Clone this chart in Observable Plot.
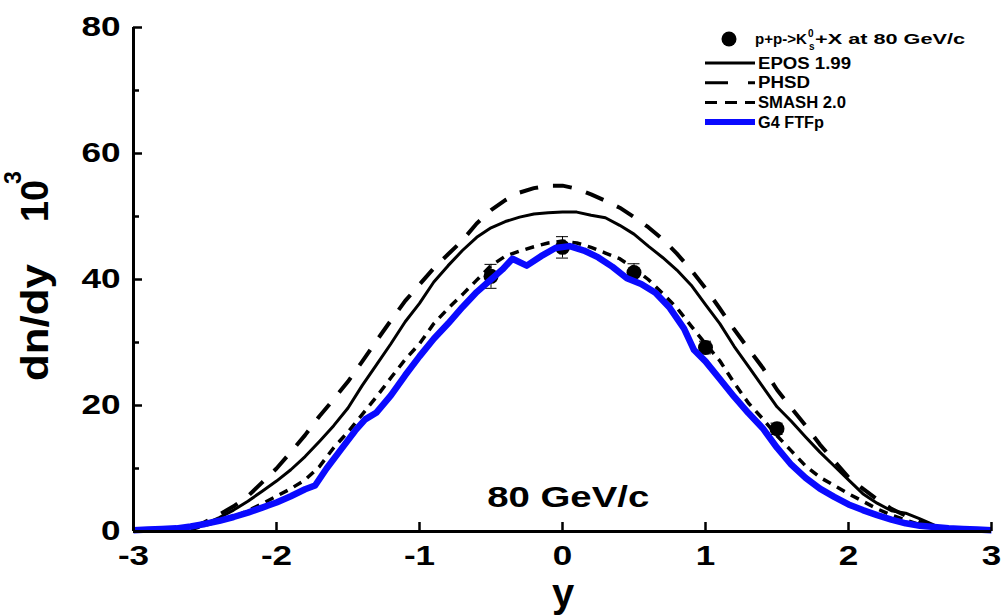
<!DOCTYPE html>
<html><head><meta charset="utf-8">
<script src="https://cdn.jsdelivr.net/npm/d3@7"></script>
<script src="https://cdn.jsdelivr.net/npm/@observablehq/plot@0.6"></script>
<style>body{margin:0;background:#fff} svg{display:block}</style>
</head><body><div id="chart"></div>
<script>
// ---- data ----
const xTicks = [-3, -2, -1, 0, 1, 2, 3];
const yTicks = [0, 20, 40, 60, 80];
const yMinorTicks = [10, 30, 50, 70];

const expX = [-0.5, 0, 0.5, 1, 1.5];
const expDn = [40.5, 45.1, 41.1, 29.2, 16.3];
const expErr = [1.9, 1.7, 1.4, 1.0, 0.9];

const eposX = [-2.6,-2.5,-2.4,-2.3,-2.2,-2.1,-2.0,-1.9,-1.8,-1.7,-1.6,-1.5,-1.4,-1.3,-1.2,-1.1,-1.0,-0.9,-0.8,-0.7,-0.6,-0.5,-0.4,-0.3,-0.2,-0.1,0.0,0.1,0.2,0.3,0.4,0.5,0.6,0.7,0.8,0.9,1.0,1.1,1.2,1.3,1.4,1.5,1.6,1.7,1.8,1.9,2.0,2.1,2.2,2.3,2.4,2.5,2.6,2.7];
const eposDn = [0.4,1.2,2.2,3.4,4.8,6.4,8.0,9.8,11.9,14.3,16.8,19.6,23.2,26.5,29.8,33.3,36.2,39.6,42.2,44.6,46.7,48.2,49.2,49.9,50.4,50.6,50.7,50.7,50.2,49.8,48.6,47.2,45.3,43.5,41.5,39.1,36.0,33.0,29.4,26.2,23.0,19.8,17.5,15.0,12.6,10.4,8.2,6.0,4.5,3.3,2.9,2.0,1.0,0.2];

const phsdX = [-2.6,-2.5,-2.4,-2.3,-2.2,-2.1,-2.0,-1.9,-1.8,-1.7,-1.6,-1.5,-1.4,-1.3,-1.2,-1.1,-1.0,-0.9,-0.8,-0.7,-0.6,-0.5,-0.4,-0.3,-0.2,-0.1,0.0,0.1,0.2,0.3,0.4,0.5,0.6,0.7,0.8,0.9,1.0,1.1,1.2,1.3,1.4,1.5,1.6,1.7,1.8,1.9,2.0,2.1,2.2,2.3,2.4,2.5,2.6];
const phsdDn = [0.5,1.5,2.7,4.0,5.6,7.8,10.0,12.6,15.3,18.3,21.0,23.8,27.0,30.3,33.5,36.6,39.2,41.8,44.0,46.2,48.9,51.0,52.6,53.8,54.5,54.9,54.9,54.4,53.5,52.5,51.4,49.9,48.3,46.4,44.1,41.5,38.6,35.4,32.1,29.0,26.0,22.5,19.6,16.8,13.8,11.2,8.6,6.8,5.1,3.6,2.5,1.5,0.6];

const smashX = [-2.6,-2.5,-2.4,-2.3,-2.2,-2.1,-2.0,-1.9,-1.8,-1.7,-1.6,-1.5,-1.4,-1.3,-1.2,-1.1,-1.0,-0.9,-0.8,-0.7,-0.6,-0.5,-0.4,-0.3,-0.2,-0.1,0.0,0.1,0.2,0.3,0.4,0.5,0.6,0.7,0.8,0.9,1.0,1.1,1.2,1.3,1.4,1.5,1.6,1.7,1.8,1.9,2.0,2.1,2.2,2.3,2.4,2.5,2.6,2.7];
const smashDn = [0.3,1.0,1.6,2.3,3.3,4.4,5.6,6.8,8.2,10.3,13.3,15.8,18.6,21.4,24.4,27.3,29.8,33.0,35.4,37.6,39.9,42.2,43.7,44.5,45.2,45.8,46.1,45.8,45.1,44.2,43.3,41.8,40.0,37.8,35.5,32.6,29.8,27.1,23.6,20.4,17.9,15.2,12.8,10.4,8.6,7.3,6.0,4.8,3.6,2.6,1.8,1.1,0.6,0.2];

const g4X = [-3.0,-2.9,-2.8,-2.7,-2.6,-2.5,-2.4,-2.3,-2.2,-2.1,-2.0,-1.9,-1.8,-1.73,-1.65,-1.55,-1.45,-1.38,-1.3,-1.2,-1.1,-1.0,-0.9,-0.8,-0.7,-0.6,-0.5,-0.42,-0.35,-0.25,-0.15,-0.05,0.05,0.15,0.25,0.35,0.45,0.55,0.65,0.75,0.85,0.92,1.0,1.1,1.2,1.3,1.4,1.5,1.6,1.7,1.8,1.9,2.0,2.1,2.2,2.3,2.4,2.5,2.6,2.7,2.8,2.9,3.0];
const g4Dn = [0.2,0.3,0.4,0.5,0.8,1.2,1.7,2.3,3.0,3.8,4.6,5.6,6.7,7.3,10.0,13.0,16.0,17.8,18.9,21.6,24.8,27.8,30.6,33.0,35.6,38.0,40.0,41.6,43.3,42.2,43.7,45.0,45.3,44.6,43.5,42.0,40.2,39.3,37.9,35.5,32.2,28.8,27.0,24.2,21.4,18.8,16.4,13.3,10.6,8.5,6.8,5.5,4.3,3.4,2.6,1.9,1.3,0.9,0.7,0.5,0.4,0.3,0.2];

const seriesNames = ["EPOS 1.99", "PHSD", "SMASH 2.0", "G4 FTFp"];
const dataLabel = ["p+p->K", "0", "s", "+X at 80 GeV/c"];
const annotationText = "80 GeV/c";

// ---- tables ----
const toRows = (xs, ys) => xs.map((x, i) => ({x, v: ys[i]}));
const exp = expX.map((x, i) => ({x, v: expDn[i], e: expErr[i]}));
const caps = exp.flatMap(d => [{x: d.x, v: d.v - d.e}, {x: d.x, v: d.v + d.e}]);
const styles = [
  {stroke: "#000", strokeWidth: 3},
  {stroke: "#000", strokeWidth: 4, strokeDasharray: "19,15"},
  {stroke: "#000", strokeWidth: 3.5, strokeDasharray: "9,7"},
  {stroke: "#0a0aff", strokeWidth: 6.5}
];
const curves = [toRows(eposX, eposDn), toRows(phsdX, phsdDn), toRows(smashX, smashDn), toRows(g4X, g4Dn)];

const FONT = "'Liberation Sans', Arial, Helvetica, sans-serif";

const chart = Plot.plot({
  width: 1005, height: 616,
  marginLeft: 133, marginRight: 14, marginTop: 27, marginBottom: 85,
  x: {domain: [-3, 3]},
  y: {domain: [0, 80]},
  style: {fontFamily: FONT, background: "#fff", color: "#000"},
  marks: [
    Plot.dot(exp, {x: "x", y: "v", r: 7.5, fill: "#000"}),
    Plot.ruleX(exp, {x: "x", y1: d => d.v - d.e, y2: d => d.v + d.e, stroke: "#000", strokeWidth: 1}),
    Plot.ruleY(caps, {y: "v", x1: d => d.x - 0.042, x2: d => d.x + 0.042, stroke: "#000", strokeWidth: 1}),
    ...curves.map((c, i) => Plot.line(c, {x: "x", y: "v", ...styles[i], strokeLinejoin: "round", strokeLinecap: "butt"})),
    Plot.text([annotationText], {x: 0.04, y: 5.4, text: d => d, fontSize: 29, fontWeight: "bold", fill: "#000", className: "stretchAnno"}),
    // axes
    Plot.ruleX([-3], {y1: 0, y2: 80, stroke: "#000", strokeWidth: 3}),
    Plot.ruleY([0], {x1: -3, x2: 3, stroke: "#000", strokeWidth: 3}),
    Plot.axisY({ticks: yTicks, tickSize: -9, text: null, label: null, strokeWidth: 2.5}),
    Plot.axisY({ticks: yMinorTicks, tickSize: -6, text: null, label: null, strokeWidth: 2.5}),
    Plot.axisX({ticks: xTicks.slice(1), tickSize: -9, text: null, label: null, strokeWidth: 2.5}),
    Plot.axisY({ticks: yTicks, tickSize: 0, tickPadding: 13, label: null, fontSize: 27, fontWeight: "bold", tickFormat: d => String(d)}),
    Plot.axisX({ticks: xTicks, tickSize: 0, tickPadding: 14, label: null, fontSize: 27, fontWeight: "bold", tickFormat: d => String(d)})
  ]
});
document.getElementById("chart").append(chart);

const svg = d3.select(chart);
function stretch(sel, factor) {
  sel.each(function() {
    const L = this.getComputedTextLength();
    this.setAttribute("textLength", (L * factor).toFixed(1));
    this.setAttribute("lengthAdjust", "spacingAndGlyphs");
  });
}
function fit(sel, width) {
  sel.attr("textLength", width).attr("lengthAdjust", "spacingAndGlyphs");
}
stretch(svg.selectAll('g[aria-label="y-axis tick label"] text, g[aria-label="x-axis tick label"] text'), 1.3);
svg.selectAll(".stretchAnno text").each(function() { fit(d3.select(this), 162); });

// axis titles
const t = svg.append("g").attr("font-family", FONT).attr("font-weight", "bold").attr("fill", "#000").attr("text-anchor", "start");
t.append("text").attr("transform", "translate(563,607)").attr("text-anchor", "middle").attr("font-size", 40).text("y");
fit(t.append("text").attr("transform", "translate(48,381) rotate(-90)").attr("font-size", 39).text("dn/dy"), 117);
fit(t.append("text").attr("transform", "translate(48,222) rotate(-90)").attr("font-size", 39).text("10"), 42);
t.append("text").attr("transform", "translate(21,184) rotate(-90)").attr("font-size", 23).text("3");

// legend
const lg = svg.append("g").attr("font-family", FONT).attr("font-weight", "bold").attr("fill", "#000").attr("text-anchor", "start");
lg.append("circle").attr("cx", 729).attr("cy", 39).attr("r", 7.5).attr("fill", "#000");
fit(lg.append("text").attr("x", 755).attr("y", 44).attr("font-size", 14.5).text(dataLabel[0]), 52);
lg.append("text").attr("x", 808).attr("y", 37).attr("font-size", 10).text(dataLabel[1]);
lg.append("text").attr("x", 809).attr("y", 50).attr("font-size", 10).text(dataLabel[2]);
fit(lg.append("text").attr("x", 815).attr("y", 44).attr("font-size", 14.5).text(dataLabel[3]), 150);
const legDash = [null, "23,20", "12,8", null];
const legWidth = [93, 52, 88, 66];
seriesNames.forEach((name, i) => {
  const yy = 63 + i * 19.7;
  lg.append("line").attr("x1", 705).attr("x2", 755).attr("y1", yy).attr("y2", yy)
    .attr("stroke", styles[i].stroke).attr("stroke-width", i === 3 ? 6 : 3)
    .attr("stroke-dasharray", legDash[i]);
  fit(lg.append("text").attr("x", 758).attr("y", yy + 5.5).attr("font-size", 16).text(name), legWidth[i]);
});
</script>
</body></html>
